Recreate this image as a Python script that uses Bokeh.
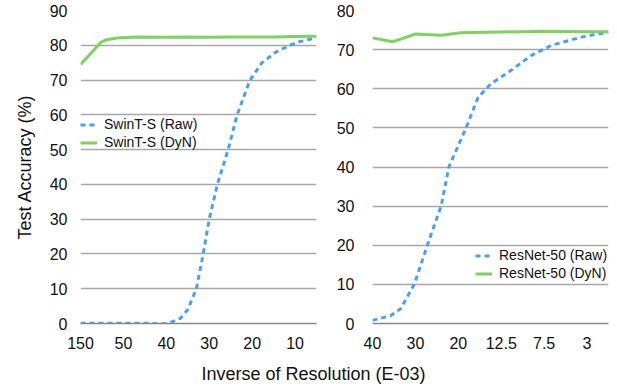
from bokeh.plotting import figure
from bokeh.layouts import row, column
from bokeh.models import FixedTicker, Legend, LegendItem, Div, Range1d
from bokeh.embed import file_html
from bokeh.resources import INLINE

# ---- data (x = position along the category axis, in tick units) ----
left_ticks = ["150", "50", "40", "30", "20", "10"]
swin_raw_x = [0, 0.5, 1.0, 1.5, 1.85, 2.0, 2.1, 2.33, 2.5, 2.7, 2.86, 3.0, 3.19, 3.44, 3.65, 3.95, 4.23, 4.55, 4.88, 5.1, 5.5]
swin_raw_y = [0.1, 0.1, 0.1, 0.1, -0.1, 0.0, 0.3, 1.5, 4.0, 10.0, 20.0, 30.0, 40.0, 50.0, 60.0, 70.0, 75.0, 78.0, 80.0, 81.0, 82.2]
swin_dyn_x = [0, 0.23, 0.47, 0.6, 0.93, 1.3, 2.0, 2.5, 3.0, 3.5, 4.0, 4.5, 5.0, 5.5]
swin_dyn_y = [74.5, 77.5, 80.8, 81.6, 82.2, 82.4, 82.3, 82.4, 82.3, 82.4, 82.4, 82.4, 82.5, 82.6]

right_ticks = ["40", "30", "20", "12.5", "7.5", "3"]
res_raw_x = [0, 0.42, 0.66, 0.98, 1.29, 1.6, 1.78, 2.18, 2.46, 2.76, 3.23, 3.7, 4.17, 4.87, 5.5]
res_raw_y = [0.8, 2.0, 3.8, 10.2, 20.4, 30.0, 40.0, 50.0, 57.8, 61.3, 64.7, 68.5, 71.1, 73.2, 74.5]
res_dyn_x = [0, 0.47, 1.0, 1.6, 2.05, 3.0, 4.0, 5.0, 5.5]
res_dyn_y = [73.0, 72.0, 74.0, 73.7, 74.3, 74.5, 74.7, 74.6, 74.6]

BLUE = "#4a9ff5"
GREEN = "#7dd35b"
FONT = "Liberation Sans"
GRID = "#a8a8a8"


def make_panel(ymax, ticks, raw_x, raw_y, dyn_x, dyn_y, labels, left_border, right_border, ylabel=None, y_standoff=12):
    p = figure(frame_width=236, frame_height=313, min_border_left=left_border, min_border_right=right_border,
               min_border_top=10, min_border_bottom=30, output_backend="svg", toolbar_location=None,
               x_range=Range1d(0, 5.5), y_range=Range1d(0, ymax))
    p.outline_line_color = None
    p.background_fill_color = None
    p.border_fill_color = None
    p.xgrid.grid_line_color = None
    p.ygrid.grid_line_color = GRID
    p.ygrid.grid_line_width = 1.5
    p.yaxis.ticker = FixedTicker(ticks=list(range(0, ymax + 1, 10)))
    p.xaxis.ticker = FixedTicker(ticks=list(range(len(ticks))))
    p.xaxis.major_label_overrides = {i: t for i, t in enumerate(ticks)}
    for ax in (p.xaxis[0], p.yaxis[0]):
        ax.major_tick_line_color = None
        ax.minor_tick_line_color = None
        ax.major_tick_out = 0
        ax.major_tick_in = 0
        ax.minor_tick_out = 0
        ax.minor_tick_in = 0
        ax.major_label_text_font = FONT
        ax.major_label_text_font_size = "16px"
        ax.major_label_text_color = "#111111"
    p.yaxis.axis_line_color = None
    p.xaxis.axis_line_color = "#888888"
    p.xaxis.axis_line_width = 1.5
    p.xaxis.major_label_standoff = 13
    p.yaxis.major_label_standoff = y_standoff
    if ylabel:
        p.yaxis.axis_label = ylabel
        p.yaxis.axis_label_text_font = FONT
        p.yaxis.axis_label_text_font_size = "18px"
        p.yaxis.axis_label_text_font_style = "normal"
        p.yaxis.axis_label_text_color = "#111111"
        p.yaxis.axis_label_standoff = 12
    r1 = p.line(raw_x, raw_y, line_color=BLUE, line_width=3, line_dash="5 4")
    r2 = p.line(dyn_x, dyn_y, line_color=GREEN, line_width=3)
    leg = Legend(items=[LegendItem(label=labels[0], renderers=[r1]), LegendItem(label=labels[1], renderers=[r2])])
    leg.border_line_color = None
    leg.background_fill_alpha = 0
    leg.padding = 0
    leg.margin = 0
    leg.spacing = 2
    leg.glyph_width = 17
    leg.glyph_height = 15
    leg.label_height = 15
    leg.label_standoff = 7
    leg.label_text_font = FONT
    leg.label_text_font_size = "14px"
    leg.label_text_color = "#111111"
    p.add_layout(leg)
    return p, leg


p1, l1 = make_panel(90, left_ticks, swin_raw_x, swin_raw_y, swin_dyn_x, swin_dyn_y,
                    ["SwinT-S (Raw)", "SwinT-S (DyN)"], 80, 1, ylabel="Test Accuracy (%)", y_standoff=13)
l1.location = (0, 173)
p2, l2 = make_panel(80, right_ticks, res_raw_x, res_raw_y, res_dyn_x, res_dyn_y,
                    ["ResNet-50 (Raw)", "ResNet-50 (DyN)"], 55, 9, y_standoff=18)
l2.location = (103, 42)

xlabel = Div(text="Inverse of Resolution (E-03)", width=617, height=36,
             styles={"text-align": "center", "font-family": FONT, "font-size": "18px", "color": "#111111",
                     "width": "617px", "padding-top": "4px"})

layout = column(row(p1, p2, spacing=0), xlabel, spacing=0)
open("out.html", "w").write(file_html(layout, INLINE))
